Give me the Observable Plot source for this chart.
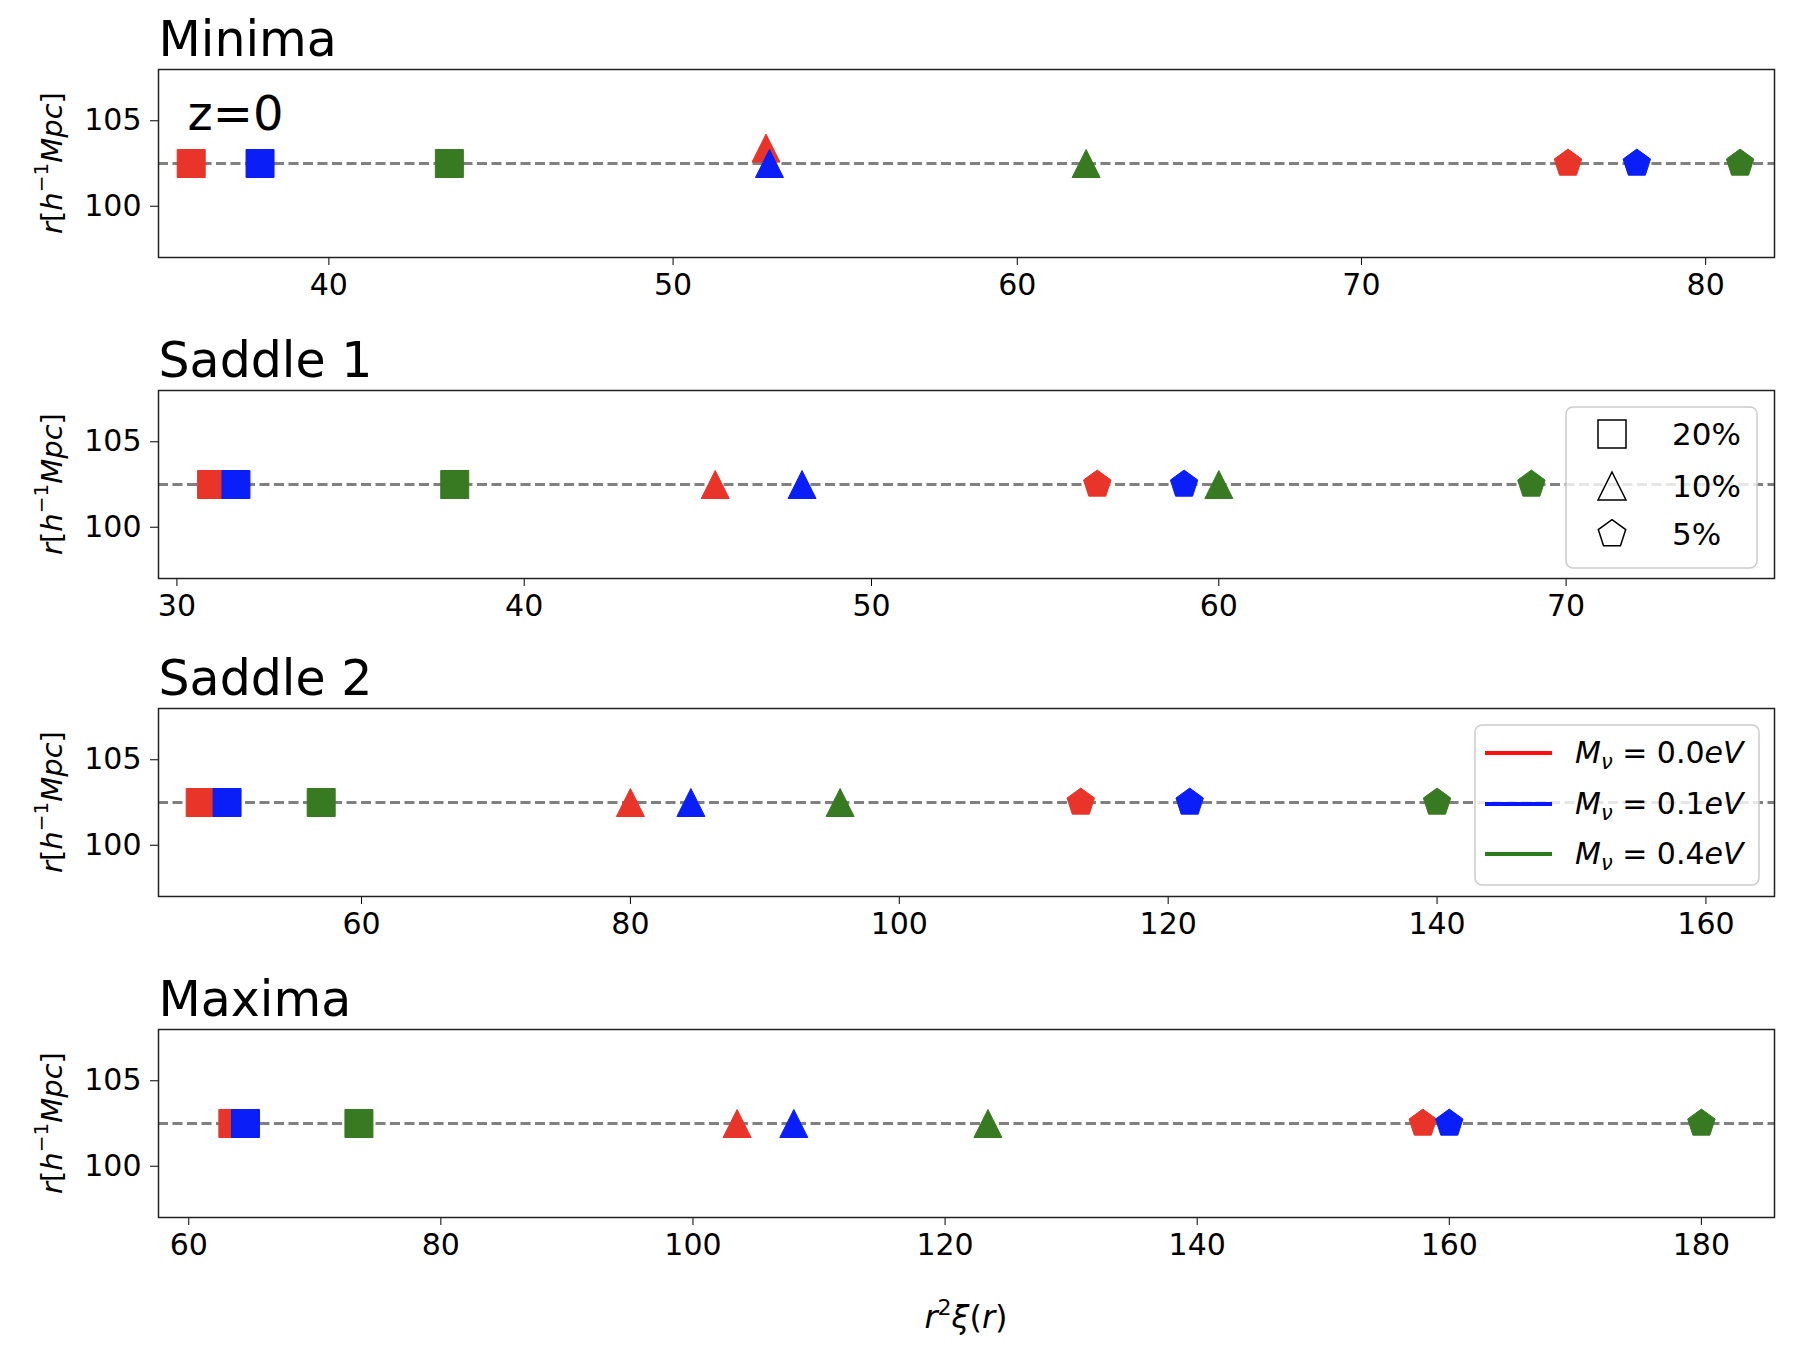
<!DOCTYPE html>
<html>
<head>
<meta charset="utf-8">
<script src="https://cdn.jsdelivr.net/npm/d3@7"></script>
<script src="https://cdn.jsdelivr.net/npm/@observablehq/plot@0.6"></script>
<style>
  body { margin: 0; background: #fff; }
  #chart { width: 1802px; height: 1350px; position: relative; font-family: "DejaVu Sans", sans-serif; }
  #chart svg { display: block; }
</style>
</head>
<body>
<div id="chart"></div>
<script>
// ---------------- data ----------------
const panelNames = ["Minima", "Saddle 1", "Saddle 2", "Maxima"];
const masses = ["0.0", "0.1", "0.4"];          // M_nu [eV]: red, blue, green
const levels = ["20%", "10%", "5%"];           // square, triangle, pentagon
const rPeak = 102.5;                            // r [h^-1 Mpc] of the markers

// r^2 xi(r) values, order per array: M=0.0, 0.1, 0.4
const minima20 = [36.0, 38.0, 43.5];
const minima10 = [52.7, 52.8, 62.0];
const minima5  = [76.0, 78.0, 81.0];
const minimaR10 = [103.4, 102.5, 102.5];        // red triangle sits higher

const saddle1_20 = [31.0, 31.7, 38.0];
const saddle1_10 = [45.5, 48.0, 60.0];
const saddle1_5  = [56.5, 59.0, 69.0];

const saddle2_20 = [48.0, 50.0, 57.0];
const saddle2_10 = [80.0, 84.5, 95.6];
const saddle2_5  = [113.5, 121.6, 140.0];

const maxima20 = [63.5, 64.5, 73.5];
const maxima10 = [103.5, 108.0, 123.4];
const maxima5  = [157.9, 160.0, 180.0];

// axes
const minimaDomain  = [35.05, 82.0];
const saddle1Domain = [29.47, 76.0];
const saddle2Domain = [44.9, 165.1];
const maximaDomain  = [57.6, 185.8];
const minimaTicks  = [40, 50, 60, 70, 80];
const saddle1Ticks = [30, 40, 50, 60, 70];
const saddle2Ticks = [60, 80, 100, 120, 140, 160];
const maximaTicks  = [60, 80, 100, 120, 140, 160, 180];
const rDomain = [97, 108];
const rTicks = [100, 105];

// ---------------- styles ----------------
const fillColors = ["#e9342a", "#0a1ef8", "#387a22"];
const lineColors = ["#ff1010", "#0a14ff", "#2b7a1e"];

const sqSym = { draw(c, s) { const r = Math.sqrt(s / Math.PI); c.moveTo(-r, -r); c.lineTo(r, -r); c.lineTo(r, r); c.lineTo(-r, r); c.closePath(); } };
const triSym = { draw(c, s) { const r = Math.sqrt(s / Math.PI); c.moveTo(0, -r); c.lineTo(r, r); c.lineTo(-r, r); c.closePath(); } };
const pentSym = { draw(c, s) { const R = Math.sqrt(s / Math.PI) * 1.03; for (let k = 0; k < 5; k++) { const a = -Math.PI / 2 + k * 2 * Math.PI / 5; const px = R * Math.cos(a), py = R * Math.sin(a); if (k === 0) c.moveTo(px, py); else c.lineTo(px, py); } c.closePath(); } };
const symbols = [sqSym, triSym, pentSym];

function rows(s20, s10, s5, r10) {
  const out = [];
  [s20, s10, s5].forEach((arr, li) => {
    arr.forEach((v, mi) => {
      out.push({ x: v, r: (li === 1 && r10) ? r10[mi] : rPeak, mass: masses[mi], level: levels[li] });
    });
  });
  return out;
}

const panels = [
  { name: panelNames[0], domain: minimaDomain, ticks: minimaTicks, data: rows(minima20, minima10, minima5, minimaR10) },
  { name: panelNames[1], domain: saddle1Domain, ticks: saddle1Ticks, data: rows(saddle1_20, saddle1_10, saddle1_5) },
  { name: panelNames[2], domain: saddle2Domain, ticks: saddle2Ticks, data: rows(saddle2_20, saddle2_10, saddle2_5) },
  { name: panelNames[3], domain: maximaDomain, ticks: maximaTicks, data: rows(maxima20, maxima10, maxima5) }
];

const heights = [320, 320, 320, 390];
const tops = [69, 70, 68, 69];
const frameH = 188;
const mL = 158, mR = 28;

function pathOf(sym, size) { const p = d3.path(); sym.draw(p, size); return p.toString(); }

const chart = document.getElementById("chart");

panels.forEach((p, idx) => {
  const h = heights[idx], mt = tops[idx];
  const marks = [
    Plot.ruleY([rPeak], { stroke: "#808080", strokeWidth: 2.8, strokeDasharray: "10,4.5" }),
    Plot.dot(p.data, { x: "x", y: "r", fill: "mass", stroke: "mass", symbol: "level", r: 14, strokeWidth: 1 }),
    Plot.frame({ stroke: "#222", strokeWidth: 1.5 }),
    Plot.text([p.name], { frameAnchor: "top-left", textAnchor: "start", lineAnchor: "bottom", dy: -14, fontSize: 49, fill: "#000" })
  ];
  if (idx === 0) {
    marks.push(Plot.text(["z=0"], { frameAnchor: "top-left", textAnchor: "start", lineAnchor: "bottom", dx: 29, dy: 60, fontSize: 48, fill: "#000" }));
  }
  const svgEl = Plot.plot({
    width: 1802,
    height: h,
    marginLeft: mL,
    marginRight: mR,
    marginTop: mt,
    marginBottom: h - mt - frameH,
    style: { fontFamily: "DejaVu Sans", fontSize: "30px", color: "#000", background: "transparent", overflow: "visible" },
    x: { domain: p.domain, ticks: p.ticks, tickSize: 8, tickPadding: 8, label: null, tickFormat: d => String(d) },
    y: { domain: rDomain, ticks: rTicks, tickSize: 8, tickPadding: 9, label: null, tickFormat: d => String(d) },
    color: { domain: masses, range: fillColors },
    symbol: { domain: levels, range: symbols },
    marks
  });
  chart.appendChild(svgEl);
  const svg = d3.select(svgEl);

  // y-axis label r[h^-1 Mpc]
  const yl = svg.append("text")
    .attr("transform", `translate(52,${mt + frameH / 2}) rotate(-90)`)
    .attr("text-anchor", "middle")
    .attr("dominant-baseline", "central")
    .attr("font-family", "DejaVu Sans")
    .attr("font-size", 29)
    .attr("fill", "#000");
  yl.append("tspan").attr("font-style", "italic").text("r");
  yl.append("tspan").text("[");
  yl.append("tspan").attr("font-style", "italic").text("h");
  yl.append("tspan").attr("font-size", 20).attr("dy", -11).text("−1");
  yl.append("tspan").attr("font-style", "italic").attr("dy", 11).text("Mpc");
  yl.append("tspan").text("]");

  if (idx === 1) {
    const g = svg.append("g").attr("text-anchor", "start");
    g.append("rect").attr("x", 1566).attr("y", 87).attr("width", 191).attr("height", 161).attr("rx", 7)
      .attr("fill", "#fff").attr("fill-opacity", 0.8).attr("stroke", "#cccccc").attr("stroke-width", 1.5);
    const ys = [114, 166, 214];
    levels.forEach((lv, i) => {
      g.append("path").attr("d", pathOf(symbols[i], Math.PI * 14 * 14))
        .attr("transform", `translate(1612,${ys[i]})`)
        .attr("fill", "none").attr("stroke", "#000").attr("stroke-width", 1.5);
      g.append("text").attr("x", 1672).attr("y", ys[i] + 11).attr("font-size", 31)
        .attr("text-anchor", "start")
        .attr("font-family", "DejaVu Sans").attr("fill", "#000").text(lv);
    });
  }
  if (idx === 2) {
    const g = svg.append("g").attr("text-anchor", "start");
    g.append("rect").attr("x", 1475).attr("y", 85).attr("width", 284).attr("height", 160).attr("rx", 7)
      .attr("fill", "#fff").attr("fill-opacity", 0.8).attr("stroke", "#cccccc").attr("stroke-width", 1.5);
    const ys = [113, 164, 214];
    masses.forEach((m, i) => {
      g.append("line").attr("x1", 1485).attr("x2", 1552).attr("y1", ys[i]).attr("y2", ys[i])
        .attr("stroke", lineColors[i]).attr("stroke-width", 4);
      const t = g.append("text").attr("x", 1575).attr("y", ys[i] + 10).attr("font-size", 30)
        .attr("text-anchor", "start")
        .attr("font-family", "DejaVu Sans").attr("fill", "#000");
      t.append("tspan").attr("font-style", "italic").text("M");
      t.append("tspan").attr("font-style", "italic").attr("font-size", 21).attr("dy", 6).text("ν");
      t.append("tspan").attr("dy", -6).text(" = " + m);
      t.append("tspan").attr("font-style", "italic").text("eV");
    });
  }
  if (idx === 3) {
    const t = svg.append("text").attr("x", (mL + 1802 - mR) / 2).attr("y", 368)
      .attr("text-anchor", "middle").attr("font-size", 32).attr("font-family", "DejaVu Sans").attr("fill", "#000");
    t.append("tspan").attr("font-style", "italic").text("r");
    t.append("tspan").attr("font-size", 22).attr("dy", -13).text("2");
    t.append("tspan").attr("font-style", "italic").attr("dy", 13).text("ξ");
    t.append("tspan").text("(");
    t.append("tspan").attr("font-style", "italic").text("r");
    t.append("tspan").text(")");
  }
});
</script>
</body>
</html>
